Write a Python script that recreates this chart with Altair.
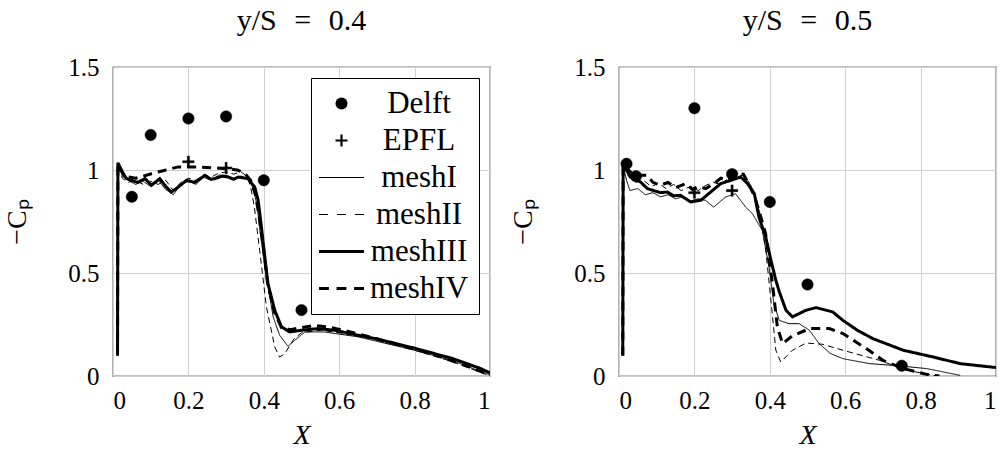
import altair as alt
import pandas as pd

SERIES = ["Delft", "EPFL", "meshI", "meshII", "meshIII", "meshIV"]
MESHES = ["meshI", "meshII", "meshIII", "meshIV"]

# ---------------- left panel: y/S = 0.4 ----------------
L_delft_x = [0.05, 0.10, 0.20, 0.30, 0.40, 0.50]
L_delft_y = [0.87, 1.17, 1.25, 1.26, 0.95, 0.32]
L_epfl_x = [0.20, 0.30]
L_epfl_y = [1.04, 1.01]

L_m1_x = [0.012, 0.013, 0.025, 0.04, 0.06, 0.08, 0.10, 0.12, 0.14, 0.16, 0.18, 0.20, 0.22, 0.24, 0.26, 0.28, 0.30, 0.32, 0.34, 0.36, 0.372, 0.382, 0.39, 0.405, 0.425, 0.442, 0.464, 0.482, 0.509, 0.56, 0.65, 0.80, 0.90, 1.0]
L_m1_y = [0.10, 1.03, 0.97, 0.95, 0.93, 0.945, 0.92, 0.95, 0.905, 0.88, 0.93, 0.945, 0.93, 0.965, 0.95, 0.975, 0.975, 0.96, 0.97, 0.955, 0.91, 0.83, 0.70, 0.50, 0.286, 0.198, 0.144, 0.173, 0.214, 0.214, 0.19, 0.125, 0.075, 0.005]

L_m2_x = [0.012, 0.013, 0.025, 0.04, 0.06, 0.08, 0.10, 0.12, 0.14, 0.16, 0.18, 0.20, 0.22, 0.24, 0.26, 0.28, 0.30, 0.32, 0.34, 0.355, 0.365, 0.375, 0.383, 0.389, 0.407, 0.429, 0.442, 0.456, 0.48, 0.50, 0.55, 0.60, 0.70, 0.80, 0.90, 1.0]
L_m2_y = [0.10, 1.02, 0.96, 0.94, 0.95, 0.93, 0.945, 0.93, 0.95, 0.90, 0.94, 0.96, 0.95, 0.975, 0.965, 0.985, 0.99, 0.98, 0.99, 0.97, 0.92, 0.82, 0.70, 0.61, 0.335, 0.141, 0.092, 0.109, 0.18, 0.21, 0.222, 0.21, 0.175, 0.125, 0.07, 0.0]

L_m3_x = [0.012, 0.013, 0.025, 0.035, 0.049, 0.065, 0.085, 0.102, 0.124, 0.14, 0.155, 0.173, 0.195, 0.217, 0.244, 0.26, 0.27, 0.29, 0.305, 0.32, 0.332, 0.358, 0.376, 0.385, 0.392, 0.40, 0.411, 0.429, 0.447, 0.469, 0.50, 0.544, 0.588, 0.65, 0.70, 0.80, 0.90, 0.97, 1.0]
L_m3_y = [0.10, 1.035, 0.99, 0.96, 0.95, 0.94, 0.958, 0.926, 0.958, 0.92, 0.893, 0.917, 0.95, 0.94, 0.974, 0.955, 0.958, 0.97, 0.966, 0.955, 0.966, 0.958, 0.917, 0.853, 0.75, 0.62, 0.449, 0.319, 0.238, 0.214, 0.222, 0.230, 0.222, 0.198, 0.18, 0.135, 0.085, 0.04, 0.015]

L_m4_x = [0.012, 0.013, 0.03, 0.06, 0.08, 0.102, 0.138, 0.173, 0.226, 0.27, 0.31, 0.332, 0.35, 0.365, 0.378, 0.388, 0.398, 0.41, 0.428, 0.447, 0.47, 0.50, 0.535, 0.58, 0.65, 0.75, 0.85, 0.95, 1.0]
L_m4_y = [0.10, 1.03, 0.97, 0.96, 0.97, 0.982, 0.999, 1.015, 1.015, 1.01, 1.005, 0.999, 0.982, 0.95, 0.88, 0.77, 0.64, 0.45, 0.31, 0.235, 0.225, 0.235, 0.246, 0.235, 0.205, 0.155, 0.105, 0.04, 0.005]

# ---------------- right panel: y/S = 0.5 ----------------
R_delft_x = [0.02, 0.045, 0.20, 0.30, 0.40, 0.50, 0.75]
R_delft_y = [1.03, 0.97, 1.30, 0.98, 0.845, 0.444, 0.05]
R_epfl_x = [0.20, 0.30]
R_epfl_y = [0.89, 0.90]

R_m1_x = [0.010, 0.011, 0.02, 0.029, 0.05, 0.07, 0.09, 0.11, 0.13, 0.15, 0.17, 0.19, 0.21, 0.229, 0.251, 0.283, 0.309, 0.336, 0.354, 0.38, 0.398, 0.411, 0.425, 0.451, 0.478, 0.505, 0.531, 0.56, 0.594, 0.665, 0.745, 0.816, 0.905]
R_m1_y = [0.10, 1.02, 0.95, 0.90, 0.91, 0.88, 0.89, 0.87, 0.88, 0.86, 0.87, 0.85, 0.86, 0.853, 0.82, 0.869, 0.885, 0.82, 0.788, 0.707, 0.529, 0.351, 0.27, 0.254, 0.254, 0.222, 0.157, 0.11, 0.084, 0.06, 0.049, 0.036, 0.003]

R_m2_x = [0.010, 0.011, 0.025, 0.045, 0.065, 0.085, 0.105, 0.125, 0.145, 0.165, 0.19, 0.21, 0.23, 0.25, 0.27, 0.29, 0.31, 0.33, 0.345, 0.36, 0.375, 0.39, 0.403, 0.416, 0.429, 0.46, 0.496, 0.54, 0.594, 0.691, 0.763, 0.843]
R_m2_y = [0.10, 1.02, 0.97, 0.94, 0.95, 0.92, 0.935, 0.91, 0.93, 0.90, 0.92, 0.90, 0.925, 0.94, 0.93, 0.96, 0.97, 0.975, 0.94, 0.88, 0.78, 0.60, 0.367, 0.125, 0.068, 0.125, 0.16, 0.154, 0.125, 0.076, 0.028, 0.0]

R_m3_x = [0.010, 0.011, 0.02, 0.03, 0.057, 0.075, 0.092, 0.11, 0.128, 0.145, 0.163, 0.19, 0.217, 0.243, 0.27, 0.297, 0.323, 0.341, 0.359, 0.371, 0.389, 0.403, 0.416, 0.425, 0.443, 0.46, 0.496, 0.523, 0.567, 0.594, 0.634, 0.674, 0.754, 0.834, 0.905, 1.0]
R_m3_y = [0.10, 1.04, 1.0, 0.966, 0.942, 0.91, 0.90, 0.89, 0.893, 0.875, 0.877, 0.845, 0.853, 0.893, 0.934, 0.95, 0.966, 0.934, 0.885, 0.772, 0.675, 0.562, 0.465, 0.41, 0.319, 0.287, 0.319, 0.332, 0.311, 0.27, 0.22, 0.181, 0.125, 0.092, 0.06, 0.041]

R_m4_x = [0.010, 0.011, 0.03, 0.05, 0.075, 0.09, 0.11, 0.13, 0.15, 0.177, 0.195, 0.21, 0.23, 0.252, 0.27, 0.29, 0.315, 0.33, 0.345, 0.36, 0.375, 0.389, 0.407, 0.42, 0.434, 0.46, 0.505, 0.558, 0.594, 0.656, 0.70, 0.754, 0.816, 0.85]
R_m4_y = [0.10, 1.03, 0.99, 0.975, 0.974, 0.94, 0.926, 0.94, 0.915, 0.934, 0.905, 0.92, 0.91, 0.934, 0.96, 0.95, 0.982, 0.98, 0.93, 0.87, 0.78, 0.69, 0.449, 0.238, 0.157, 0.195, 0.23, 0.23, 0.206, 0.133, 0.076, 0.036, 0.008, 0.0]

FONT = "Liberation Serif"


def bar(x0, x1, h):
    return f"M{x0},{-h}L{x1},{-h}L{x1},{h}L{x0},{h}Z"


# legend / marker glyphs as filled unit paths (lines drawn as thin bars)
SHAPES = [
    "circle",
    bar(-1, 1, 0.18) + "M-0.18,-1L0.18,-1L0.18,1L-0.18,1Z",
    bar(-3.75, 3.75, 0.09),
    bar(-3.75, -2.25, 0.09) + bar(-0.75, 0.75, 0.09) + bar(2.25, 3.75, 0.09),
    bar(-3.75, 3.75, 0.25),
    bar(-3.75, -2.1, 0.25) + bar(-0.82, 0.82, 0.25) + bar(2.1, 3.75, 0.25),
]
DASHES = [[1, 0], [6, 4], [1, 0], [9, 6]]
WIDTHS = [1, 1, 3, 3]


def panel(dx, dy, ex, ey, meshes, title, show_legend):
    pts = pd.DataFrame({
        "X": dx + ex,
        "Y": dy + ey,
        "series": ["Delft"] * len(dx) + ["EPFL"] * len(ex),
    })
    rows = []
    for name, (xs, ys) in meshes.items():
        for i, (a, b) in enumerate(zip(xs, ys)):
            rows.append({"X": a, "Y": b, "series": name, "i": i})
    ln = pd.DataFrame(rows)

    if show_legend:
        leg = alt.Legend(
            title=None, orient="top-right", offset=11,
            fillColor="white", strokeColor="black", padding=10, rowPadding=5,
            labelFont=FONT, labelFontSize=31, labelColor="black",
            labelAlign="center", labelOffset=62, symbolSize=144, symbolOffset=5,
            symbolStrokeColor="black", symbolFillColor="black", symbolStrokeWidth=0,
            cornerRadius=0,
        )
    else:
        leg = None

    lab = "datum.value == 0 ? '0' : datum.value == 1 ? '1' : format(datum.value, '.1f')"
    xenc = alt.X("X:Q", scale=alt.Scale(domain=[0, 1], nice=False, zero=False),
                 axis=alt.Axis(values=[0, 0.2, 0.4, 0.6, 0.8, 1.0], title="X",
                               titleFontStyle="italic", labelExpr=lab))
    yenc = alt.Y("Y:Q", scale=alt.Scale(domain=[0, 1.5], nice=False, zero=False),
                 axis=alt.Axis(values=[0, 0.5, 1.0, 1.5], title="−Cₚ", labelExpr=lab))

    lines = alt.Chart(ln).mark_line(color="black", clip=True).encode(
        x=xenc, y=yenc,
        strokeDash=alt.StrokeDash("series:N", scale=alt.Scale(domain=MESHES, range=DASHES), legend=None),
        strokeWidth=alt.StrokeWidth("series:N", scale=alt.Scale(type="ordinal", domain=MESHES, range=WIDTHS), legend=None),
        order=alt.Order("i:Q"))
    points = alt.Chart(pts).mark_point(filled=True, fill="black", stroke="black", strokeWidth=0.5,
                                       opacity=1, size=130).encode(
        x=xenc, y=yenc,
        shape=alt.Shape("series:N", scale=alt.Scale(domain=SERIES, range=SHAPES), legend=leg))
    return alt.layer(lines, points).properties(
        width=377, height=309,
        title=alt.TitleParams(title, font=FONT, fontSize=30, fontWeight="normal", offset=19, color="black"))


SP = "\u2002\u200a"
left = panel(L_delft_x, L_delft_y, L_epfl_x, L_epfl_y,
             {"meshI": (L_m1_x, L_m1_y), "meshII": (L_m2_x, L_m2_y),
              "meshIII": (L_m3_x, L_m3_y), "meshIV": (L_m4_x, L_m4_y)},
             "y/S" + SP + "=" + SP + "0.4", True)
right = panel(R_delft_x, R_delft_y, R_epfl_x, R_epfl_y,
              {"meshI": (R_m1_x, R_m1_y), "meshII": (R_m2_x, R_m2_y),
               "meshIII": (R_m3_x, R_m3_y), "meshIV": (R_m4_x, R_m4_y)},
              "y/S" + SP + "=" + SP + "0.5", False)

chart = alt.hconcat(left, right, spacing=129, bounds="flush").resolve_scale(
    x="independent", y="independent", shape="independent",
    strokeDash="independent", strokeWidth="independent"
).resolve_legend(
    shape="independent", strokeDash="independent", strokeWidth="independent"
).properties(
    padding={"left": 3, "top": 5, "right": 0, "bottom": 0},
).configure(
    font=FONT, background="white"
).configure_view(
    stroke="black", strokeWidth=1.2
).configure_axis(
    labelFont=FONT, labelFontSize=25, labelColor="black",
    titleFont=FONT, titleFontSize=28, titleFontWeight="normal", titleColor="black",
    gridColor="#d0d0d0", gridWidth=1, ticks=False, domain=False,
).configure_axisX(
    labelPadding=12, titlePadding=8,
).configure_axisY(
    labelPadding=14, titlePadding=36,
).configure_title(
    font=FONT
).configure_legend(
    labelFont=FONT
)

chart.save("out.html", embed_options={"renderer": "svg", "actions": False})
